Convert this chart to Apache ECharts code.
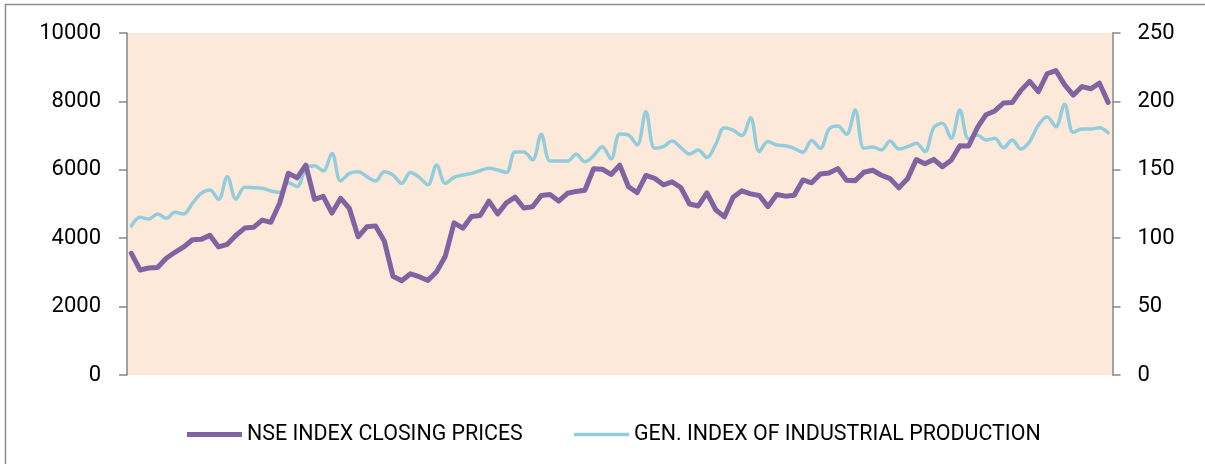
<!DOCTYPE html>
<html>
<head>
<meta charset="utf-8">
<script src="https://cdn.jsdelivr.net/npm/echarts@6/dist/echarts.min.js"></script>
<style>html,body{margin:0;padding:0;background:#fff;}#c{width:1205px;height:464px;}</style>
</head>
<body>
<div id="c"></div>
<script>
// Monthly categories: Apr 2006 .. Aug 2015 (113 months)
const monthNames = ['Jan','Feb','Mar','Apr','May','Jun','Jul','Aug','Sep','Oct','Nov','Dec'];
const categories = [];
for (let y = 2006, m = 3; y < 2015 || (y === 2015 && m <= 7); ) {
  categories.push(monthNames[m] + '-' + String(y).slice(2));
  m++; if (m === 12) { m = 0; y++; }
}

const seriesNames = ['NSE INDEX CLOSING PRICES', 'GEN. INDEX OF INDUSTRIAL PRODUCTION'];

const nseClose = [
  3558, 3071, 3128, 3143, 3414, 3588, 3744, 3955, 3966,
  4083, 3745, 3822, 4088, 4296, 4318, 4529, 4464, 5021, 5901, 5763, 6139,
  5137, 5224, 4735, 5166, 4870, 4041, 4333, 4360, 3921, 2886, 2755, 2959,
  2875, 2764, 3021, 3474, 4449, 4291, 4636, 4662, 5084, 4712, 5033, 5201,
  4882, 4922, 5249, 5278, 5086, 5313, 5368, 5402, 6030, 6018, 5863, 6135,
  5506, 5333, 5834, 5750, 5560, 5647, 5482, 5001, 4943, 5327, 4832, 4624,
  5199, 5385, 5296, 5248, 4924, 5279, 5229, 5259, 5703, 5620, 5880, 5905,
  6035, 5693, 5683, 5930, 5986, 5842, 5742, 5472, 5735, 6299, 6176, 6304,
  6090, 6277, 6704, 6696, 7230, 7611, 7721, 7954, 7965, 8322, 8588, 8283,
  8809, 8902, 8491, 8182, 8434, 8369, 8533, 7971
];

const iipIndex = [
  108.9, 115.3, 114.0, 117.7, 114.5, 118.9, 117.7, 125.5, 132.8,
  135.2, 128.4, 145.0, 128.6, 137.2, 136.9, 136.5, 134.5, 133.5, 140.6, 137.7, 151.1,
  153.0, 149.1, 162.0, 141.8, 147.4, 148.6, 145.0, 141.8, 148.6, 146.2, 140.1, 148.1,
  144.5, 139.0, 153.5, 140.1, 144.5, 146.2, 147.4, 149.4, 151.1, 149.9, 148.0, 163.0,
  163.0, 157.2, 175.9, 156.4, 156.4, 156.4, 161.3, 155.9, 160.3, 166.9, 157.9, 176.2,
  175.4, 168.1, 192.5, 165.7, 166.9, 171.0, 166.2, 161.5, 164.5, 158.9, 168.6, 180.8,
  179.0, 175.0, 188.1, 163.3, 170.6, 168.1, 167.6, 165.7, 162.8, 171.5, 165.7, 179.8,
  182.0, 175.9, 193.7, 165.7, 166.7, 164.5, 171.0, 165.2, 166.9, 169.4, 163.3, 180.8,
  184.0, 173.0, 193.7, 172.5, 175.4, 171.8, 173.0, 166.2, 171.8, 165.2, 170.6, 182.7,
  188.8, 181.5, 197.9, 177.4, 179.8, 179.8, 180.8, 177.1
];

const leftTicks = {min: 0, max: 10000, interval: 2000};
const rightTicks = {min: 0, max: 250, interval: 50};

const chart = echarts.init(document.getElementById('c'), null, {renderer: 'canvas'});
const axisGray = '#868686';
const fontFam = 'Roboto, "Liberation Sans", sans-serif';
const purple = '#8064A2';
const cyan = '#93CDDD';
const legendText = {fontFamily: fontFam, fontSize: 21.4, color: '#000'};

chart.setOption({
  animation: false,
  backgroundColor: '#ffffff',
  graphic: [{
    type: 'rect',
    shape: {x: 5.5, y: 4.5, width: 1220, height: 480},
    style: {fill: 'none', stroke: '#8c8c8c', lineWidth: 1.5},
    silent: true, z: -1
  }],
  grid: {
    left: 127, right: 92.5, top: 33, bottom: 89,
    show: true, backgroundColor: '#FDE9D9', borderWidth: 0
  },
  legend: [{
    left: 187, top: 424, padding: 0,
    icon: 'rect', itemWidth: 55, itemHeight: 5, itemGap: 0,
    textStyle: legendText,
    data: [seriesNames[0]]
  }, {
    left: 574, top: 424, padding: 0,
    icon: 'rect', itemWidth: 55, itemHeight: 3.5, itemGap: 0,
    textStyle: legendText,
    data: [seriesNames[1]]
  }],
  xAxis: {
    type: 'category', data: categories, boundaryGap: true, show: false
  },
  yAxis: [{
    type: 'value', min: leftTicks.min, max: leftTicks.max, interval: leftTicks.interval,
    position: 'left',
    axisLine: {show: true, lineStyle: {color: axisGray, width: 1.5}},
    axisTick: {show: true, inside: false, length: 8, lineStyle: {color: axisGray, width: 1.5}},
    splitLine: {show: false},
    axisLabel: {margin: 26, fontFamily: fontFam, fontSize: 22, color: '#000', formatter: v => String(v)}
  }, {
    type: 'value', min: rightTicks.min, max: rightTicks.max, interval: rightTicks.interval,
    position: 'right',
    axisLine: {show: true, lineStyle: {color: axisGray, width: 1.5}},
    axisTick: {show: true, inside: false, length: 8, lineStyle: {color: axisGray, width: 1.5}},
    splitLine: {show: false},
    axisLabel: {margin: 25, fontFamily: fontFam, fontSize: 22, color: '#000', formatter: v => String(v)}
  }],
  series: [{
    name: seriesNames[0], type: 'line', yAxisIndex: 0, data: nseClose,
    symbol: 'none', smooth: false,
    lineStyle: {color: purple, width: 5, join: 'round', cap: 'round'},
    itemStyle: {color: purple}, z: 3
  }, {
    name: seriesNames[1], type: 'line', yAxisIndex: 1, data: iipIndex,
    symbol: 'none', smooth: 0.35,
    lineStyle: {color: cyan, width: 3.5, join: 'round', cap: 'round'},
    itemStyle: {color: cyan}, z: 2
  }]
});
</script>
</body>
</html>
